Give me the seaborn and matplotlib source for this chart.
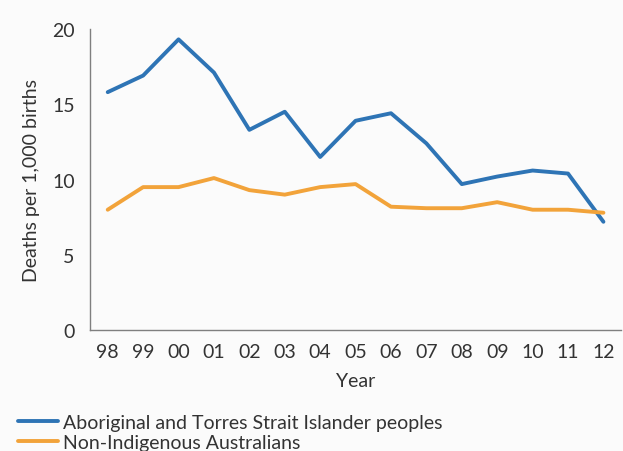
import numpy as np
import pandas as pd
import seaborn as sns
import matplotlib.pyplot as plt
from matplotlib.ticker import FixedLocator, NullFormatter

# Values
years = ['98', '99', '00', '01', '02', '03', '04', '05', '06', '07', '08', '09', '10', '11', '12']
indigenous = [15.8, 16.9, 19.3, 17.1, 13.3, 14.5, 11.5, 13.9, 14.4, 12.4, 9.7, 10.2, 10.6, 10.4, 7.2]
non_indigenous = [8.0, 9.5, 9.5, 10.1, 9.3, 9.0, 9.5, 9.7, 8.2, 8.1, 8.1, 8.5, 8.0, 8.0, 7.8]
series_names = ['Aboriginal and Torres Strait Islander peoples', 'Non-Indigenous Australians']
colors = ['#2e74b5', '#f2a33a']

df = pd.DataFrame({
    'pos': list(range(len(years))) * 2,
    'rate': indigenous + non_indigenous,
    'group': [series_names[0]] * len(years) + [series_names[1]] * len(years),
})

sns.set_style('white')
plt.rcParams['font.family'] = ['Lato', 'DejaVu Sans']
text_col = '#333333'
axis_col = '#7f7f7f'
fs = 14

fig = plt.figure(figsize=(6.23, 4.52), dpi=100, facecolor='#fbfbfb')
ax = fig.add_axes([0.1445, 0.267, 0.8525, 0.667])
ax.set_facecolor('#fbfbfb')

sns.lineplot(data=df, x='pos', y='rate', hue='group', palette=colors,
             linewidth=2.8, ax=ax, legend=False)

ax.set_xlim(-0.5, len(years) - 0.5)
ax.set_ylim(0, 20)
ax.set_yticks([0, 5, 10, 15, 20])
ax.set_xticks(range(len(years)))
ax.set_xticklabels(years)
ax.xaxis.set_minor_locator(FixedLocator(np.arange(-0.5, len(years), 1)))
ax.xaxis.set_minor_formatter(NullFormatter())
ax.tick_params(axis='x', which='major', length=0, labelsize=fs, colors=text_col, pad=9)
ax.tick_params(axis='x', which='minor', length=5, width=1, color=axis_col, direction='out')
ax.tick_params(axis='y', length=5, width=1, color=axis_col, labelsize=fs,
               labelcolor=text_col, pad=6, direction='out')

for side in ['top', 'right']:
    ax.spines[side].set_visible(False)
for side in ['left', 'bottom']:
    ax.spines[side].set_color(axis_col)
    ax.spines[side].set_linewidth(1)

ax.set_xlabel('Year', fontsize=fs, color=text_col, labelpad=9)
ax.set_ylabel('Deaths per 1,000 births', fontsize=fs, color=text_col, labelpad=9)

handles = [plt.Line2D([], [], color=c, linewidth=2.8) for c in colors]
fig.legend(handles, series_names, loc='lower left', bbox_to_anchor=(0.029, 0.0),
           frameon=False, fontsize=fs, handlelength=2.05, handletextpad=0.26,
           labelspacing=0.15, labelcolor=text_col, borderaxespad=0, borderpad=0)

fig.savefig('out.png', dpi=100, facecolor=fig.get_facecolor())
